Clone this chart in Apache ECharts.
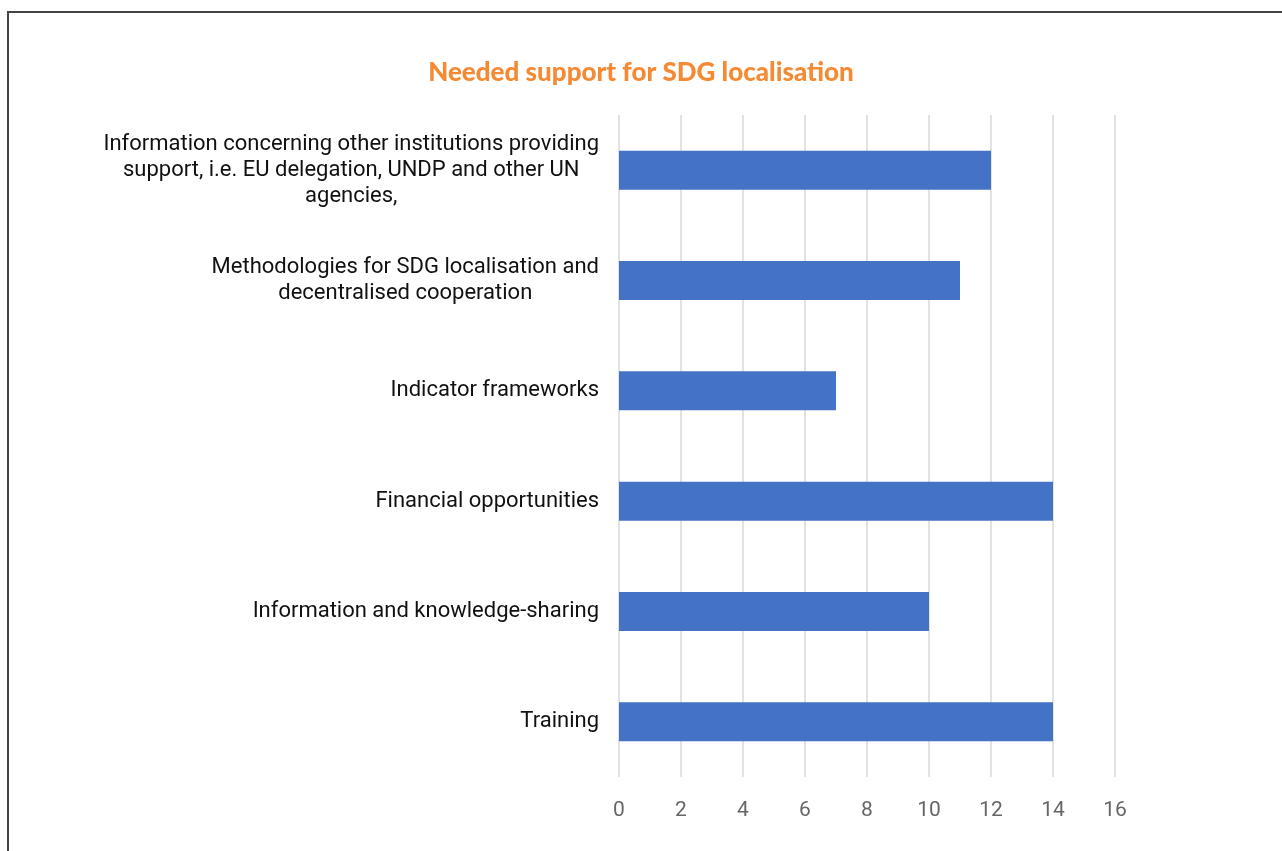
<!DOCTYPE html>
<html>
<head>
<meta charset="utf-8">
<script src="https://cdn.jsdelivr.net/npm/echarts@6/dist/echarts.min.js"></script>
<style>
  html, body { margin: 0; padding: 0; background: #fff; }
  #chart { position: absolute; left: 0; top: 0; width: 1282px; height: 851px; }
  #frame {
    position: absolute; left: 7px; top: 11px; width: 1290px; height: 900px;
    border-left: 2px solid #444; border-top: 2px solid #444;
    pointer-events: none;
  }
</style>
</head>
<body>
<div id="chart"></div>
<div id="frame"></div>
<script>
const TITLE = 'Needed support for SDG localisation';

// top to bottom, as in the picture
const categories = [
  'Information concerning other institutions providing\nsupport, i.e. EU delegation, UNDP and other UN\nagencies,',
  'Methodologies for SDG localisation and\ndecentralised cooperation',
  'Indicator frameworks',
  'Financial opportunities',
  'Information and knowledge-sharing',
  'Training'
];
const counts = [12, 11, 7, 14, 10, 14];

const chart = echarts.init(document.getElementById('chart'));

const option = {
  backgroundColor: '#fff',
  animation: false,
  title: {
    text: TITLE,
    left: 'center',
    top: 55,
    textStyle: {
      color: '#f58a35',
      fontFamily: 'Lato',
      fontWeight: 900,
      fontSize: 26
    }
  },
  grid: { left: 619, right: 167, top: 115, bottom: 74 },
  xAxis: {
    type: 'value',
    min: 0,
    max: 16,
    interval: 2,
    axisLine: { show: false },
    axisTick: { show: false },
    splitLine: { lineStyle: { color: '#d9d9d9', width: 1.5 } },
    axisLabel: {
      margin: 23,
      color: '#666',
      fontFamily: 'Roboto',
      fontSize: 21
    }
  },
  yAxis: {
    type: 'category',
    data: categories,
    inverse: true,
    axisLine: { show: false },
    axisTick: { show: false },
    axisLabel: {
      margin: 20,
      color: '#111',
      fontFamily: 'Roboto',
      fontSize: 22,
      lineHeight: 26,
      formatter: v => v.split('\n').map(l => '{c|' + l + '}').join('\n'),
      rich: {
        c: {
          align: 'center',
          color: '#111',
          fontFamily: 'Roboto',
          fontSize: 22,
          lineHeight: 26
        }
      }
    }
  },
  series: [{
    type: 'bar',
    data: counts,
    barWidth: 39,
    itemStyle: { color: '#4472c4' }
  }]
};

chart.setOption(option);
</script>
</body>
</html>
